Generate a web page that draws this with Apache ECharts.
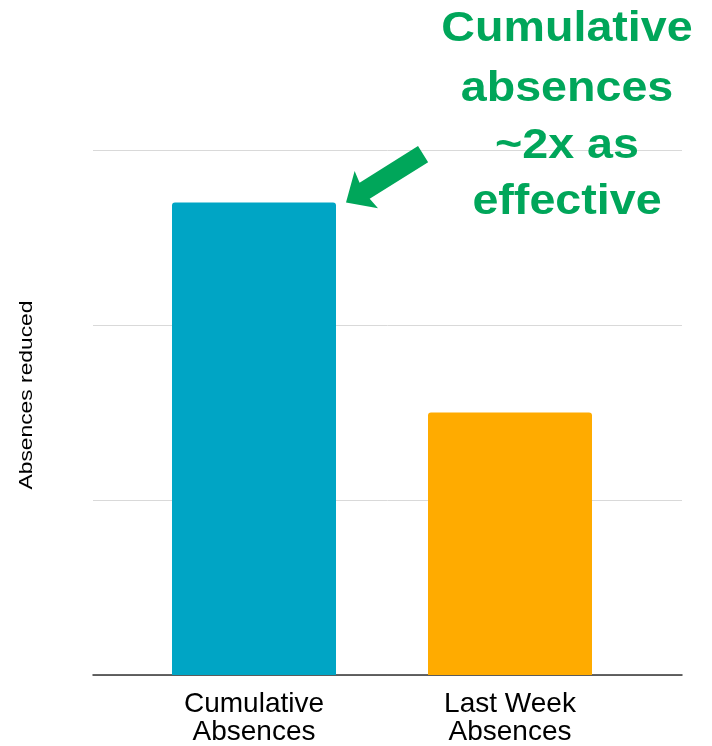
<!DOCTYPE html>
<html>
<head>
<meta charset="utf-8">
<style>
  html, body { margin: 0; padding: 0; background: #ffffff; }
  #chart { width: 712px; height: 746px; }
</style>
<script src="https://cdn.jsdelivr.net/npm/echarts@6/dist/echarts.min.js"></script>
</head>
<body>
<div id="chart"></div>
<script>
// Chart data
const categories = ['Cumulative\nAbsences', 'Last Week\nAbsences'];
const absencesReduced = [2.7, 1.5];
const barColors = ['#00A5C5', '#FFAB00'];
const yTicks = [0, 1, 2, 3];
const yAxisTitle = 'Absences reduced';
const calloutLines = ['Cumulative', 'absences', '~2x as', 'effective'];

const yMin = yTicks[0];
const yMax = yTicks[yTicks.length - 1];
const FONT = 'Liberation Sans, Arial, Helvetica, sans-serif';
const GREEN = '#00A65A';

const chart = echarts.init(document.getElementById('chart'), null, { renderer: 'canvas' });

const option = {
  backgroundColor: '#ffffff',
  animation: false,
  grid: [
    // full-width frame: gridlines and baseline
    { left: 93, right: 30, top: 150, bottom: 71 },
    // narrower band that holds the bars and category labels
    { left: 126, right: 74, top: 150, bottom: 71 }
  ],
  xAxis: [
    {
      gridIndex: 0, type: 'category', data: [''],
      axisLine: { show: true, lineStyle: { color: '#333333', width: 1.5 } },
      axisTick: { show: false }, axisLabel: { show: false }
    },
    {
      gridIndex: 1, type: 'category', data: categories,
      axisLine: { show: false }, axisTick: { show: false },
      axisLabel: {
        color: '#000000', fontFamily: FONT, fontSize: 28, lineHeight: 28,
        margin: 15, interval: 0
      }
    }
  ],
  yAxis: [
    {
      gridIndex: 0, type: 'value', min: yMin, max: yMax, interval: 1,
      axisLine: { show: false }, axisTick: { show: false }, axisLabel: { show: false },
      splitLine: { show: true, lineStyle: { color: '#D9D9D9', width: 1 } }
    },
    {
      gridIndex: 1, type: 'value', min: yMin, max: yMax, interval: 1,
      show: false, splitLine: { show: false }
    }
  ],
  series: [
    {
      type: 'bar', xAxisIndex: 1, yAxisIndex: 1,
      barWidth: 164,
      data: absencesReduced.map((v, i) => ({
        value: v,
        itemStyle: { color: barColors[i], borderRadius: [3, 3, 0, 0] }
      }))
    }
  ]
};

chart.setOption(option);

// Callout arrow pointing at the top-right corner of the first bar
const barTop = chart.convertToPixel({ xAxisIndex: 1, yAxisIndex: 1 }, [0, absencesReduced[0]]);
const tip = [barTop[0] + 82 + 10, barTop[1]];
const dir = [0.847, -0.532];
const nrm = [-dir[1], dir[0]];
const shape = [[0, 0], [24, -22], [22, -9.5], [91, -9.5], [91, 9.5], [22, 9.5], [24, 22]];
const arrowPts = shape.map(([a, p]) => [tip[0] + a * dir[0] + p * nrm[0], tip[1] + a * dir[1] + p * nrm[1]]);

const calloutY = [29, 89, 146, 202];
const graphics = [
  { type: 'polygon', shape: { points: arrowPts }, style: { fill: GREEN }, z: 100 },
  // vertical axis title
  {
    type: 'text', x: 27, y: 395, rotation: Math.PI / 2, scaleX: 1.2, z: 100,
    style: {
      text: yAxisTitle, fill: '#000000', font: '19px ' + FONT,
      textAlign: 'center', textVerticalAlign: 'middle'
    }
  }
];
calloutLines.forEach((t, i) => {
  graphics.push({
    type: 'text', x: 567, y: calloutY[i], scaleX: 1.11, z: 100,
    style: {
      text: t, fill: GREEN, font: 'bold 42px ' + FONT,
      textAlign: 'center', textVerticalAlign: 'middle'
    }
  });
});
chart.setOption({ graphic: graphics });
</script>
</body>
</html>
